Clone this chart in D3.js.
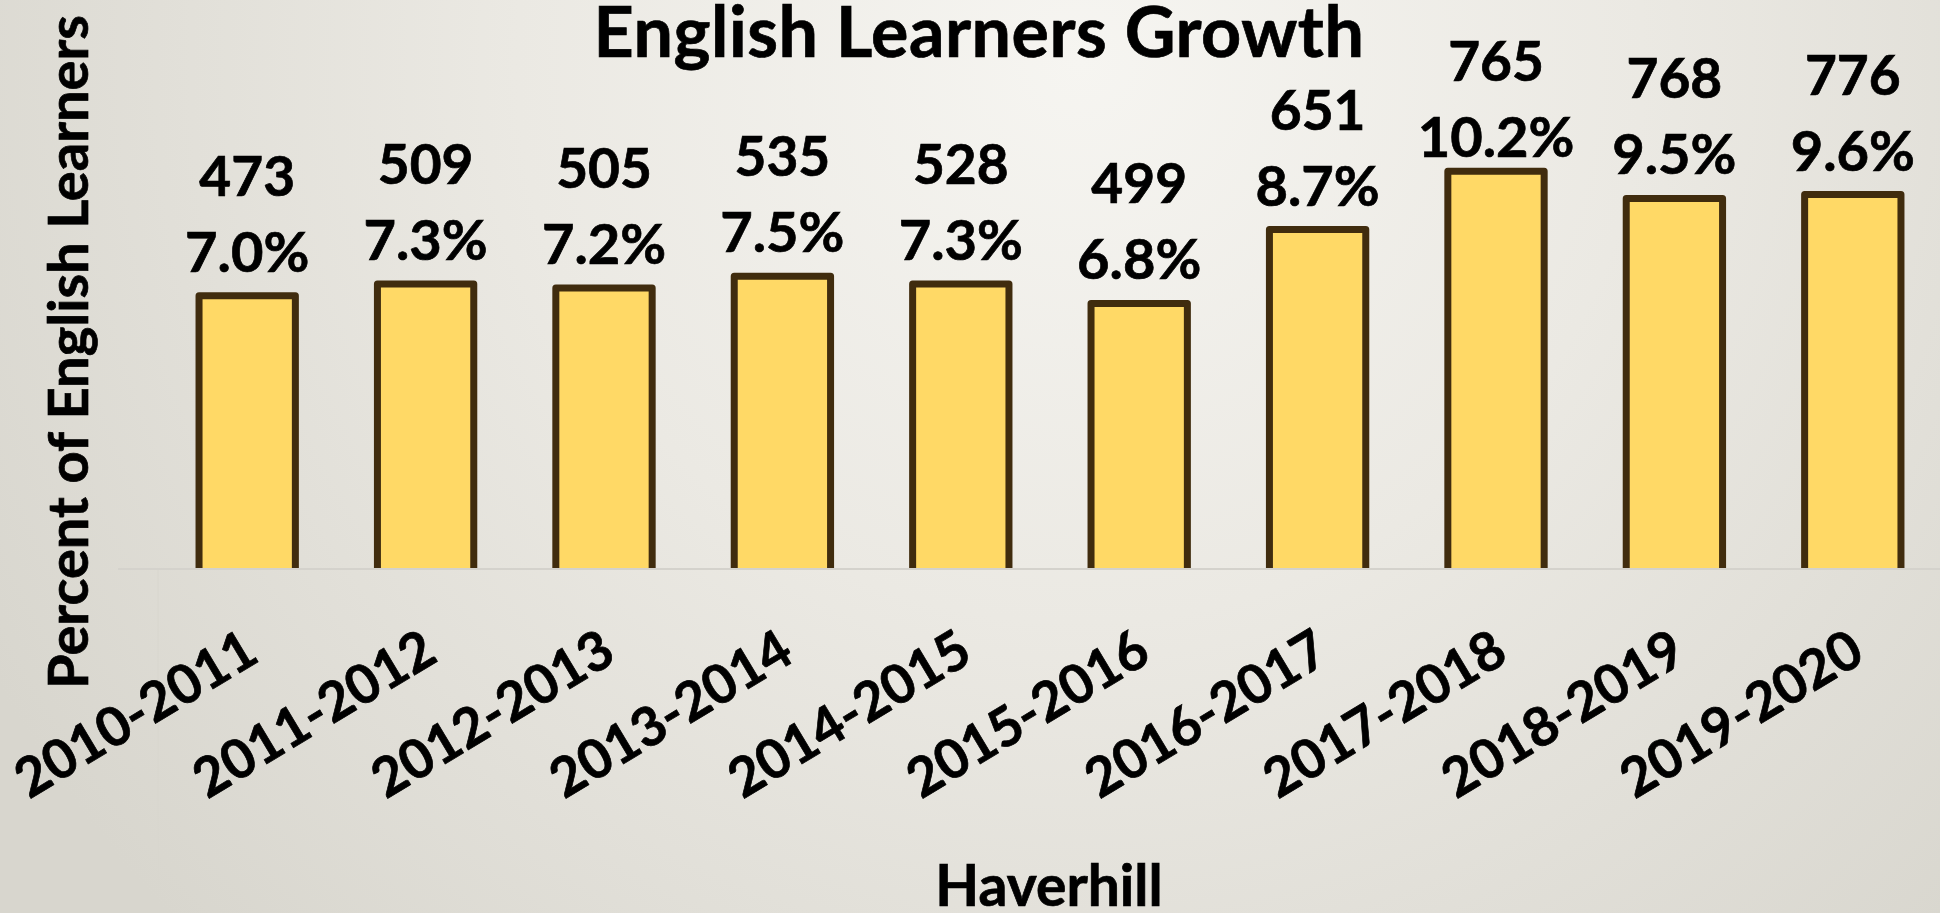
<!DOCTYPE html>
<html>
<head>
<meta charset="utf-8">
<script src="https://cdn.jsdelivr.net/npm/d3@7"></script>
<style>
  html, body { margin: 0; padding: 0; overflow: hidden; }
  svg { display: block; }
  text { font-family: Lato, "Open Sans", sans-serif; font-weight: 700; fill: #000;
         stroke: #000; stroke-width: 0.7px; }
</style>
</head>
<body>
<svg id="chart"></svg>
<script>
// School years on the category axis
const years = ["2010-2011", "2011-2012", "2012-2013", "2013-2014", "2014-2015",
               "2015-2016", "2016-2017", "2017-2018", "2018-2019", "2019-2020"];
// Number of English learners per year
const learners = [473, 509, 505, 535, 528, 499, 651, 765, 768, 776];
// Share of enrolled students who are English learners (%)
const percents = [7.0, 7.3, 7.2, 7.5, 7.3, 6.8, 8.7, 10.2, 9.5, 9.6];

const W = 1940, H = 913;
const svg = d3.select("#chart").attr("width", W).attr("height", H);

// Soft radial backdrop, brightest near the top middle
const defs = svg.append("defs");
const bg = defs.append("radialGradient").attr("id", "bg")
  .attr("gradientUnits", "userSpaceOnUse")
  .attr("cx", 1080).attr("cy", 60).attr("r", 1250);
bg.append("stop").attr("offset", "0%").attr("stop-color", "#f6f5f1");
bg.append("stop").attr("offset", "45%").attr("stop-color", "#ebe9e3");
bg.append("stop").attr("offset", "100%").attr("stop-color", "#d8d6ce");
svg.append("rect").attr("width", W).attr("height", H).attr("fill", "url(#bg)");

const baseY = 568;
const x = d3.scaleBand().domain(years).range([158, 1942]).paddingInner(0.46).paddingOuter(0.23);
const y = d3.scaleLinear().domain([0, 12]).range([baseY, baseY - 12 * 38.9]);

const data = years.map((yr, i) => ({ yr, n: learners[i], p: percents[i] }));

// Clip so the lower bar outline sits under the axis line
defs.append("clipPath").attr("id", "plot")
  .append("rect").attr("x", 0).attr("y", 0).attr("width", W).attr("height", baseY + 2);

// Faint left border of the category area
svg.append("line").attr("x1", 158).attr("x2", 158).attr("y1", baseY).attr("y2", H)
  .attr("stroke", "#d8d6ce").attr("stroke-width", 1);

// Bars
svg.append("g").attr("clip-path", "url(#plot)")
  .selectAll("rect").data(data).join("rect")
  .attr("x", d => x(d.yr))
  .attr("y", d => y(d.p))
  .attr("width", x.bandwidth())
  .attr("height", d => y(0) - y(d.p) + 4)
  .attr("fill", "#ffd966")
  .attr("stroke", "#402c0e")
  .attr("stroke-width", 7)
  .attr("stroke-linejoin", "round");

// Category axis line
svg.append("line").attr("x1", 118).attr("x2", W).attr("y1", baseY + 1).attr("y2", baseY + 1)
  .attr("stroke", "#d4d2cc").attr("stroke-width", 2);

// Value labels: count above, percentage below, kept clear of the title
const labels = svg.append("g").selectAll("g").data(data).join("g")
  .attr("transform", d => {
    const py = Math.max(y(d.p) - 24, 157);
    return `translate(${x(d.yr) + x.bandwidth() / 2},${py})`;
  });
labels.append("text").attr("text-anchor", "middle").attr("font-size", 56)
  .text(d => d.p.toFixed(1) + "%");
labels.append("text").attr("text-anchor", "middle").attr("font-size", 55).attr("y", -76)
  .text(d => d3.format("d")(d.n));

// Rotated year labels
svg.append("g").selectAll("text").data(years).join("text")
  .attr("text-anchor", "end")
  .attr("font-size", 54)
  .attr("transform", d => `translate(${x(d) + x.bandwidth() / 2 + 14},${660}) rotate(-31)`)
  .text(d => d);

// Titles
svg.append("text").attr("x", 979).attr("y", 57).attr("text-anchor", "middle")
  .attr("font-size", 70).attr("letter-spacing", 0.5).text("English Learners Growth");

svg.append("text").attr("x", 1049).attr("y", 906).attr("text-anchor", "middle")
  .attr("font-size", 57).text("Haverhill");

svg.append("text").attr("transform", "translate(88,352) rotate(-90)")
  .attr("text-anchor", "middle").attr("font-size", 56)
  .text("Percent of English Learners");
</script>
</body>
</html>
